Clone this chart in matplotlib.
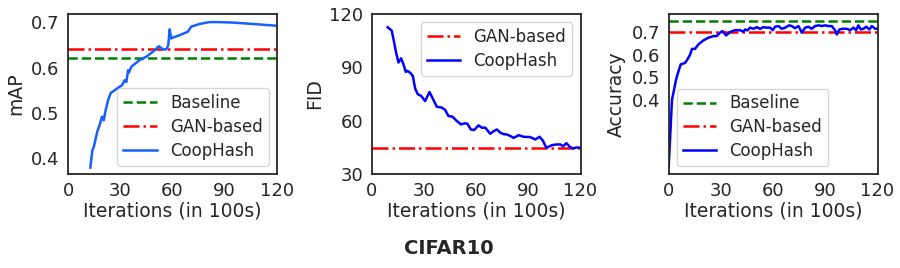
import numpy as np
import matplotlib
matplotlib.use('Agg')
import matplotlib.pyplot as plt

# mAP panel
map_iter = [12.8, 14, 15, 16, 16.8, 18.2, 19.5, 20.5, 21.6, 23, 24.5, 26.8, 29.7, 31, 32.5,
            33.5, 34.5, 35, 36.4, 41, 45, 48.8, 52.2, 54.5, 56.5, 57.6, 58.4, 59.3, 60.3,
            64, 68.9, 70.8, 75.6, 81.3, 87, 94.7, 106, 120]
map_coop = [0.380, 0.418, 0.428, 0.446, 0.459, 0.474, 0.492, 0.484, 0.506, 0.528, 0.544,
            0.550, 0.558, 0.561, 0.572, 0.568, 0.594, 0.589, 0.602, 0.616, 0.624, 0.635,
            0.647, 0.640, 0.640, 0.649, 0.684, 0.664, 0.666, 0.671, 0.679, 0.690, 0.696,
            0.700, 0.700, 0.699, 0.696, 0.692]
map_baseline = 0.62
map_gan = 0.64

# FID panel
fid_iter = [9.2, 11.5, 12.9, 14, 15.4, 16.9, 18.2, 19.6, 20.5, 22, 23.6, 25, 26.5, 28.4,
            30.7, 33.2, 35.1, 37.4, 40.3, 42.2, 44.1, 46.4, 49, 51.2, 53.7, 55, 57, 58.9,
            61.4, 63.3, 65.3, 68.1, 70.1, 72, 73.9, 75.8, 77.7, 79.7, 81.6, 84.5, 87.3,
            91.2, 94, 96.5, 98.3, 100.4, 103.6, 106.5, 108.4, 110, 111.9, 113.8, 115.7,
            117.7, 120]
fid_coop = [112.5, 110.6, 104, 98.3, 92.7, 95, 91.8, 87.4, 88, 87, 85.2, 78, 74.8, 73.9,
            71, 76.1, 72.4, 67.8, 67.3, 66, 62.6, 62.2, 59.7, 57.9, 58.5, 58.2, 55, 54.7,
            57.3, 56, 56, 52.6, 54.1, 55, 53.2, 52.4, 52.2, 51.3, 50.3, 51.8, 50.9, 50.7,
            49.4, 50.9, 48.8, 44.7, 46.2, 46.6, 46.6, 45.6, 47.3, 45.3, 44.3, 44.9, 44.7]
fid_gan = 44.6

# Accuracy panel
acc_iter = [0, 1.9, 3.1, 4.2, 5.6, 6.9, 9.4, 10.7, 12.3, 13.4, 15.1, 17, 19.9, 22.8, 25.7,
            27.6, 29.5, 30.9, 33, 35.3, 38.1, 41, 42.9, 43.9, 45.2, 46.8, 48.7, 50.6, 52.5,
            54.4, 56.4, 58.3, 59.8, 61.1, 63.1, 65, 66.9, 69.2, 70.7, 72.6, 74.6, 76.5,
            78.4, 80.3, 82.2, 84.1, 86.1, 88, 89.9, 91.8, 93.7, 95.6, 96.6, 98.1, 100,
            102.4, 104.3, 106.2, 107.7, 109, 110.4, 111.9, 113.5, 115.4, 116.7, 118.7, 120]
acc_coop = [0.110, 0.403, 0.447, 0.490, 0.527, 0.557, 0.564, 0.578, 0.600, 0.625, 0.625,
            0.644, 0.662, 0.674, 0.681, 0.681, 0.696, 0.703, 0.684, 0.699, 0.707, 0.707,
            0.700, 0.710, 0.706, 0.718, 0.713, 0.720, 0.713, 0.720, 0.718, 0.718, 0.707,
            0.722, 0.725, 0.713, 0.718, 0.728, 0.725, 0.716, 0.725, 0.696, 0.718, 0.722,
            0.713, 0.725, 0.728, 0.725, 0.728, 0.725, 0.725, 0.707, 0.688, 0.710, 0.713,
            0.713, 0.707, 0.718, 0.707, 0.728, 0.710, 0.713, 0.722, 0.710, 0.725, 0.713,
            0.713]
acc_baseline = 0.747
acc_gan = 0.70

xticks = [0, 30, 60, 90, 120]

plt.rcParams['font.size'] = 12
plt.rcParams['text.color'] = '#262626'
plt.rcParams['axes.labelcolor'] = '#262626'
plt.rcParams['xtick.color'] = '#262626'
plt.rcParams['ytick.color'] = '#262626'
plt.rcParams['legend.edgecolor'] = '#cccccc'

fig = plt.figure(figsize=(9, 2.68), dpi=100)

ax1 = fig.add_axes([0.0756, 0.351, 0.232, 0.597])
ax2 = fig.add_axes([0.413, 0.351, 0.232, 0.597])
ax3 = fig.add_axes([0.743, 0.351, 0.232, 0.597])

lw = 1.8
leg = dict(fontsize=12, labelspacing=0.35, borderpad=0.35)

# panel 1
ax1.axhline(map_baseline, color='green', linestyle='--', lw=lw, label='Baseline')
ax1.axhline(map_gan, color='red', linestyle='-.', lw=lw, label='GAN-based')
ax1.plot(map_iter, map_coop, color='#1560ff', lw=lw, label='CoopHash')
ax1.set_ylabel('mAP')
ax1.set_yticks([0.4, 0.5, 0.6, 0.7])
ax1.set_ylim(0.366, 0.718)
ax1.legend(loc='lower right', **leg)

# panel 2
ax2.axhline(fid_gan, color='red', linestyle='-.', lw=lw, label='GAN-based')
ax2.plot(fid_iter, fid_coop, color='blue', lw=lw, label='CoopHash')
ax2.set_ylabel('FID')
ax2.set_yticks([30, 60, 90, 120])
ax2.set_ylim(30, 120)
ax2.legend(loc='upper right', **leg)

# panel 3
ax3.axhline(acc_baseline, color='green', linestyle='--', lw=lw, label='Baseline')
ax3.axhline(acc_gan, color='red', linestyle='-.', lw=lw, label='GAN-based')
ax3.plot(acc_iter, acc_coop, color='blue', lw=lw, label='CoopHash')
ax3.set_ylabel('Accuracy')
ax3.set_yticks([0.4, 0.5, 0.6, 0.7])
ax3.set_ylim(0.078, 0.778)
ax3.legend(loc='lower left', bbox_to_anchor=(0.04, 0.05), borderaxespad=0, **leg)

for ax in (ax1, ax2, ax3):
    ax.set_xlim(0, 120)
    ax.set_xticks(xticks)
    ax.set_xlabel('Iterations (in 100s)', fontsize=13.5, labelpad=1)
    ax.yaxis.label.set_size(13.5)
    ax.tick_params(labelsize=13, length=0, pad=6)
    for s in ax.spines.values():
        s.set_color('#262626')
        s.set_linewidth(1.3)

fig.text(0.499, 0.072, 'CIFAR10', ha='center', va='center', fontsize=14, fontweight='bold')

fig.savefig('out.png', dpi=100)
